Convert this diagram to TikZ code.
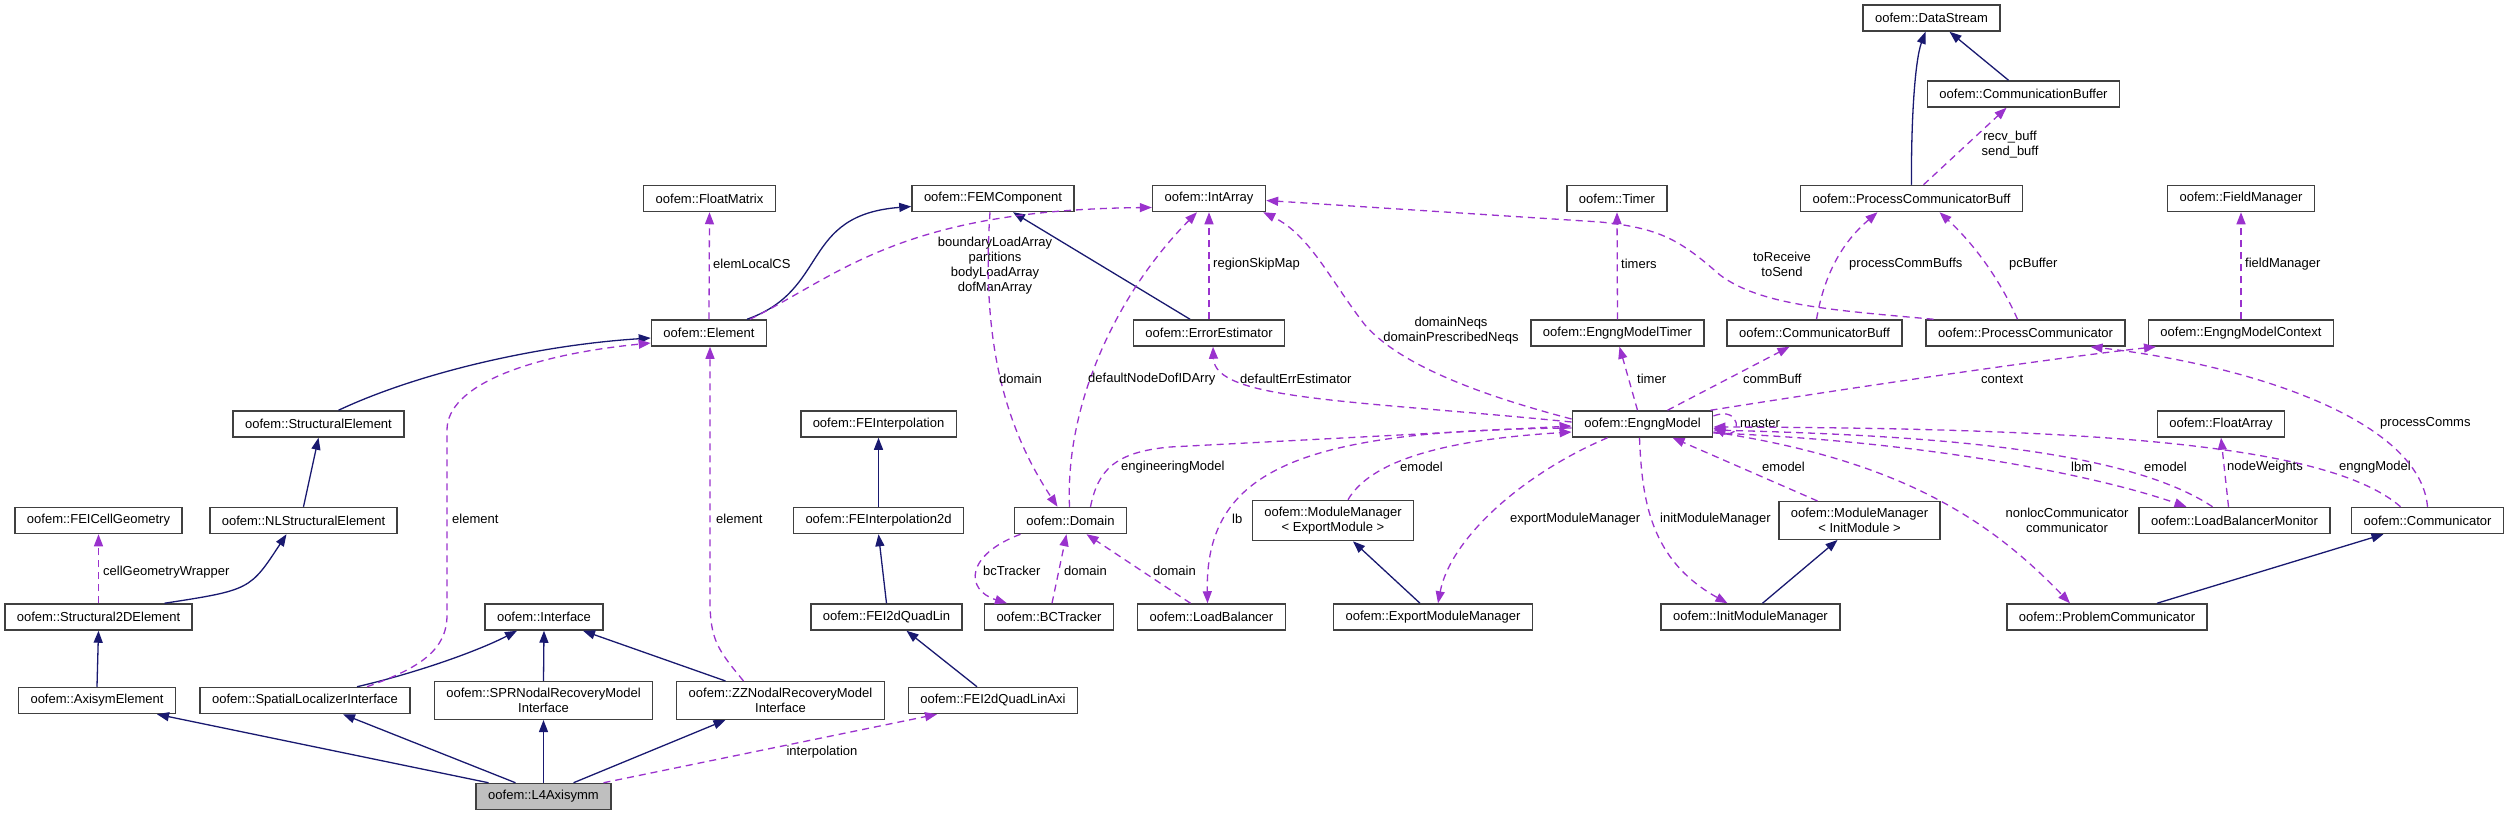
\documentclass[tikz,border=0pt]{standalone}
\usepackage{fontspec}
\setmainfont{Liberation Sans}
\usetikzlibrary{arrows.meta}
\definecolor{inhblue}{HTML}{191970}
\definecolor{usepurple}{HTML}{9A32CD}
\definecolor{curgray}{HTML}{BFBFBF}
\tikzset{
  cls/.style={draw=black!75, line width=1.5pt, fill=white, inner xsep=12pt, inner ysep=6.5pt,
    minimum height=26pt, font=\fontsize{13}{15}\selectfont},
  inhline/.style={draw=inhblue, line width=1.3pt, -{Triangle[length=12pt,width=9pt]}},
  useline/.style={draw=usepurple, line width=1.3pt, dash pattern=on 7pt off 5pt,
    -{Triangle[length=12pt,width=9pt]}},
  elabel/.style={font=\fontsize{13}{15}\selectfont, inner sep=0pt, align=center},
}
\begin{document}
\begin{tikzpicture}[x=1pt,y=-1pt]
  \useasboundingbox (0,0) rectangle (2509,816);
  % classes
  \node[cls] (ficg) at (98.5,520.5) {oofem::FEICellGeometry};
  \node[cls] (sel) at (318.5,424) {oofem::StructuralElement};
  \node[cls] (nlsel) at (303.5,520.5) {oofem::NLStructuralElement};
  \node[cls] (s2d) at (98.5,617) {oofem::Structural2DElement};
  \node[cls] (axi) at (97,700.5) {oofem::AxisymElement};
  \node[cls] (sli) at (305,700.5) {oofem::SpatialLocalizerInterface};
  \node[cls] (fmat) at (709.5,198.5) {oofem::FloatMatrix};
  \node[cls] (elem) at (709,333) {oofem::Element};
  \node[cls] (iface) at (544,617) {oofem::Interface};
  \node[cls, align=center] (spr) at (543.5,700.5) {oofem::SPRNodalRecoveryModel\\Interface};
  \node[cls, align=center] (zz) at (780.5,700.5) {oofem::ZZNodalRecoveryModel\\Interface};
  \node[cls, fill=curgray] (l4) at (543.5,796.5) {oofem::L4Axisymm};
  \node[cls] (femc) at (993,198.5) {oofem::FEMComponent};
  \node[cls] (iarr) at (1209,198.5) {oofem::IntArray};
  \node[cls] (errest) at (1209,333) {oofem::ErrorEstimator};
  \node[cls] (fei) at (878.5,424) {oofem::FEInterpolation};
  \node[cls] (fei2d) at (878.5,520.5) {oofem::FEInterpolation2d};
  \node[cls] (feiql) at (886.5,617) {oofem::FEI2dQuadLin};
  \node[cls] (feiqla) at (993,700.5) {oofem::FEI2dQuadLinAxi};
  \node[cls] (dom) at (1070.5,520.5) {oofem::Domain};
  \node[cls] (bct) at (1049,617) {oofem::BCTracker};
  \node[cls] (lbal) at (1211.5,617) {oofem::LoadBalancer};
  \node[cls, align=center] (mmexp) at (1333,520.5) {oofem::ModuleManager\\< ExportModule >};
  \node[cls] (expmm) at (1433,617) {oofem::ExportModuleManager};
  \node[cls] (timer) at (1617,198.5) {oofem::Timer};
  \node[cls] (emtimer) at (1617.5,333) {oofem::EngngModelTimer};
  \node[cls] (emod) at (1642.5,424) {oofem::EngngModel};
  \node[cls] (cbuff) at (1814.5,333) {oofem::CommunicatorBuff};
  \node[cls] (pcbuff) at (1911.5,198.5) {oofem::ProcessCommunicatorBuff};
  \node[cls] (dstream) at (1931.5,18) {oofem::DataStream};
  \node[cls] (combuf) at (2023.5,94) {oofem::CommunicationBuffer};
  \node[cls] (pcomm) at (2025.5,333) {oofem::ProcessCommunicator};
  \node[cls, align=center] (mminit) at (1859.5,520.5) {oofem::ModuleManager\\< InitModule >};
  \node[cls] (initmm) at (1750.5,617) {oofem::InitModuleManager};
  \node[cls] (probcomm) at (2107,617) {oofem::ProblemCommunicator};
  \node[cls] (fieldman) at (2241,198.5) {oofem::FieldManager};
  \node[cls] (emctx) at (2241,333) {oofem::EngngModelContext};
  \node[cls] (farr) at (2221,424) {oofem::FloatArray};
  \node[cls] (lbmon) at (2234.5,520.5) {oofem::LoadBalancerMonitor};
  \node[cls] (comm) at (2427.5,520.5) {oofem::Communicator};
  % inheritance
  \draw[inhline] ([xshift=20pt]sel.north) .. controls (420,372) and (540,345) .. ([yshift=-5pt]elem.west);
  \draw[inhline] (nlsel.north) -- (sel.south);
  \draw[inhline] ([xshift=66pt]s2d.north) .. controls (250,590) .. ([xshift=-17pt]nlsel.south);
  \draw[inhline] (axi.north) -- (s2d.south);
  \draw[inhline] ([xshift=-55pt]l4.north) -- ([xshift=60pt]axi.south);
  \draw[inhline] ([xshift=-28pt]l4.north) -- ([xshift=38pt]sli.south);
  \draw[inhline] (l4.north) -- (spr.south);
  \draw[inhline] ([xshift=30pt]l4.north) -- ([xshift=-55pt]zz.south);
  \draw[inhline] ([xshift=52pt]sli.north) .. controls (420,672) and (480,650) .. ([xshift=-27pt]iface.south);
  \draw[inhline] (spr.north) -- (iface.south);
  \draw[inhline] ([xshift=-55pt]zz.north) -- ([xshift=39pt]iface.south);
  \draw[inhline] ([xshift=38pt]elem.north) .. controls (830,290) and (800,215) .. ([yshift=-8pt]femc.west);
  \draw[inhline] ([xshift=-19pt]errest.north) -- ([xshift=20pt]femc.south);
  \draw[inhline] (fei2d.north) -- (fei.south);
  \draw[inhline] (feiql.north) -- (fei2d.south);
  \draw[inhline] ([xshift=-16pt]feiqla.north) -- ([xshift=20pt]feiql.south);
  \draw[inhline] ([xshift=-13pt]expmm.north) -- ([xshift=20pt]mmexp.south);
  \draw[inhline] ([xshift=12pt]initmm.north) -- ([xshift=-22pt]mminit.south);
  \draw[inhline] ([xshift=50pt]probcomm.north) -- ([xshift=-44pt]comm.south);
  \draw[inhline] (pcbuff.north) .. controls (1911,120) and (1915,60) .. ([xshift=-6pt]dstream.south);
  \draw[inhline] ([xshift=-15pt]combuf.north) -- ([xshift=18pt]dstream.south);
  % usage
  \draw[useline] (s2d.north) -- (ficg.south);
  \node[elabel, anchor=west] (lcgw) at (103,572) {cellGeometryWrapper};
  \draw[useline] (elem.north) -- (fmat.south);
  \node[elabel, anchor=west] (llcs) at (713,264) {elemLocalCS};
  \draw[useline] ([xshift=62pt]sli.north) .. controls (420,668) and (447,650) .. (447,615) -- (447,430)
    .. controls (447,385) and (530,355) .. ([yshift=-10pt]elem.west);
  \node[elabel, anchor=west] (lel1) at (452,519) {element};
  \draw[useline] ([xshift=-37pt]zz.north) .. controls (718,650) and (710,640) .. (710,600) -- ([xshift=1pt]elem.south);
  \node[elabel, anchor=west] (lel2) at (716,519) {element};
  \draw[useline] ([xshift=60pt]l4.north) -- ([xshift=-56pt]feiqla.south);
  \node[elabel] (linterp) at (822,752) {interpolation};
  \draw[useline] ([xshift=41pt]elem.north) .. controls (840,275) and (900,210) .. ([yshift=-9pt]iarr.west);
  \node[elabel] (larrays) at (995,266) {boundaryLoadArray\\partitions\\bodyLoadArray\\dofManArray};
  \draw[useline] ([xshift=-3pt]femc.south) .. controls (982,330) and (1000,420) .. ([xshift=-13pt]dom.north);
  \node[elabel, anchor=west] (ldom1) at (999,379) {domain};
  \draw[useline] ([xshift=-1pt]dom.north) .. controls (1065,400) and (1120,290) .. ([xshift=-12pt]iarr.south);
  \node[elabel, anchor=west] (ldofid) at (1088,379) {defaultNodeDofIDArry};
  \draw[useline] ([xshift=20pt]dom.north) .. controls (1098,470) and (1115,452) .. (1170,447) -- ([yshift=-2pt]emod.west);
  \node[elabel, anchor=west] (lengmod) at (1121,467) {engineeringModel};
  \draw[useline] ([xshift=-50pt]dom.south) .. controls (965,555) and (965,590) .. ([xshift=-42pt]bct.north);
  \node[elabel, anchor=west] (lbct) at (983,571) {bcTracker};
  \draw[useline] ([xshift=3pt]bct.north) -- ([xshift=-4pt]dom.south);
  \node[elabel, anchor=west] (ldom2) at (1064,571) {domain};
  \draw[useline] ([xshift=-21pt]lbal.north) -- ([xshift=16pt]dom.south);
  \node[elabel, anchor=west] (ldom3) at (1153,571) {domain};
  \draw[useline] (errest.north) -- (iarr.south);
  \node[elabel, anchor=west] (lrsm) at (1213,264) {regionSkipMap};
  \draw[useline] ([yshift=5pt]emod.west) .. controls (1480,395) and (1400,365) .. (1365,325)
    .. controls (1330,280) and (1310,235) .. ([xshift=-3pt]iarr.south east);
  \node[elabel] (lneqs) at (1451,331) {domainNeqs\\domainPrescribedNeqs};
  \draw[useline] ([yshift=2pt]emod.west) .. controls (1350,400) and (1215,400) .. ([xshift=4pt]errest.south);
  \node[elabel, anchor=west] (lerr) at (1240,379) {defaultErrEstimator};
  \draw[useline] ([yshift=-4pt]emod.west) .. controls (1300,430) and (1205,470) .. ([xshift=-4pt]lbal.north);
  \node[elabel, anchor=west] (llb) at (1232,519) {lb};
  \draw[useline] ([xshift=15pt]mmexp.north) .. controls (1370,462) and (1440,440) .. ([yshift=-8pt]emod.west);
  \node[elabel, anchor=west] (lem1) at (1400,467) {emodel};
  \draw[useline] ([xshift=-35pt]emod.south) .. controls (1520,475) and (1450,540) .. ([xshift=5pt]expmm.north);
  \node[elabel, anchor=west] (lexp) at (1510,519) {exportModuleManager};
  \draw[useline] ([xshift=-3pt]emod.south) .. controls (1642,500) and (1650,560) .. ([xshift=-23pt]initmm.north);
  \node[elabel, anchor=west] (linit) at (1660,519) {initModuleManager};
  \draw[useline] ([xshift=-42pt]mminit.north) -- ([xshift=30pt]emod.south);
  \node[elabel, anchor=west] (lem2) at (1762,467) {emodel};
  \draw[useline] ([yshift=-8pt]emod.east) .. controls (1900,460) and (1990,520) .. ([xshift=-37pt]probcomm.north);
  \node[elabel] (lnonloc) at (2067,520) {nonlocCommunicator\\communicator};
  \draw[useline] ([yshift=8pt]emod.east) .. controls (1742,405) and (1742,440) .. ([yshift=-4pt]emod.east);
  \node[elabel, anchor=west] (lmaster) at (1740,423) {master};
  \draw[useline] ([xshift=25pt]emod.north) -- ([xshift=-25pt]cbuff.south);
  \node[elabel, anchor=west] (lcbuf) at (1743,379) {commBuff};
  \draw[useline] ([xshift=-5pt]emod.north) -- ([xshift=2pt]emtimer.south);
  \node[elabel, anchor=west] (ltimer) at (1637,379) {timer};
  \draw[useline] (emtimer.north) -- (timer.south);
  \node[elabel, anchor=west] (ltimers) at (1621,264) {timers};
  \draw[useline] ([xshift=-92pt]pcomm.north) .. controls (1830,310) and (1760,305) .. (1720,275)
    .. controls (1680,240) and (1660,228) .. (1600,222) -- ([yshift=-2pt]iarr.east);
  \node[elabel] (ltorecv) at (1782,264) {toReceive\\toSend};
  \draw[useline] ([xshift=2pt]cbuff.north) .. controls (1825,270) and (1845,240) .. ([xshift=-34pt]pcbuff.south);
  \node[elabel, anchor=west] (lpcb) at (1849,264) {processCommBuffs};
  \draw[useline] ([xshift=-8pt]pcomm.north) .. controls (2000,280) and (1975,245) .. ([xshift=28pt]pcbuff.south);
  \node[elabel, anchor=west] (lpcbuf) at (2009,264) {pcBuffer};
  \draw[useline] ([xshift=12pt]pcbuff.north) -- ([xshift=-17pt]combuf.south);
  \node[elabel] (lrecv) at (2010,145) {recv\_buff\\send\_buff};
  \draw[useline] ([xshift=68pt]emod.north) .. controls (1900,380) and (2080,355) .. ([xshift=-85pt]emctx.south);
  \node[elabel, anchor=west] (lctx) at (1981,379) {context};
  \draw[useline] (emctx.north) -- (fieldman.south);
  \node[elabel, anchor=west] (lfield) at (2245,264) {fieldManager};
  \draw[useline] ([xshift=-6pt]lbmon.north) -- (farr.south);
  \node[elabel, anchor=west] (lnodew) at (2227,467) {nodeWeights};
  \draw[useline] ([yshift=-9pt]emod.east) .. controls (1900,440) and (2080,470) .. ([xshift=-48pt]lbmon.north);
  \node[elabel, anchor=west] (llbm) at (2071,467) {lbm};
  \draw[useline] ([xshift=-22pt]lbmon.north) .. controls (2120,445) and (1900,435) .. ([yshift=-6pt]emod.east);
  \node[elabel, anchor=west] (lem3) at (2144,467) {emodel};
  \draw[useline] ([xshift=-27pt]comm.north) .. controls (2330,445) and (2100,428) .. ([yshift=-3pt]emod.east);
  \node[elabel, anchor=west] (lengm) at (2339,467) {engngModel};
  \draw[useline] (comm.north) .. controls (2420,420) and (2250,365) .. ([xshift=65pt]pcomm.south);
  \node[elabel, anchor=west] (lprocc) at (2380,423) {processComms};
\end{tikzpicture}
\end{document}
